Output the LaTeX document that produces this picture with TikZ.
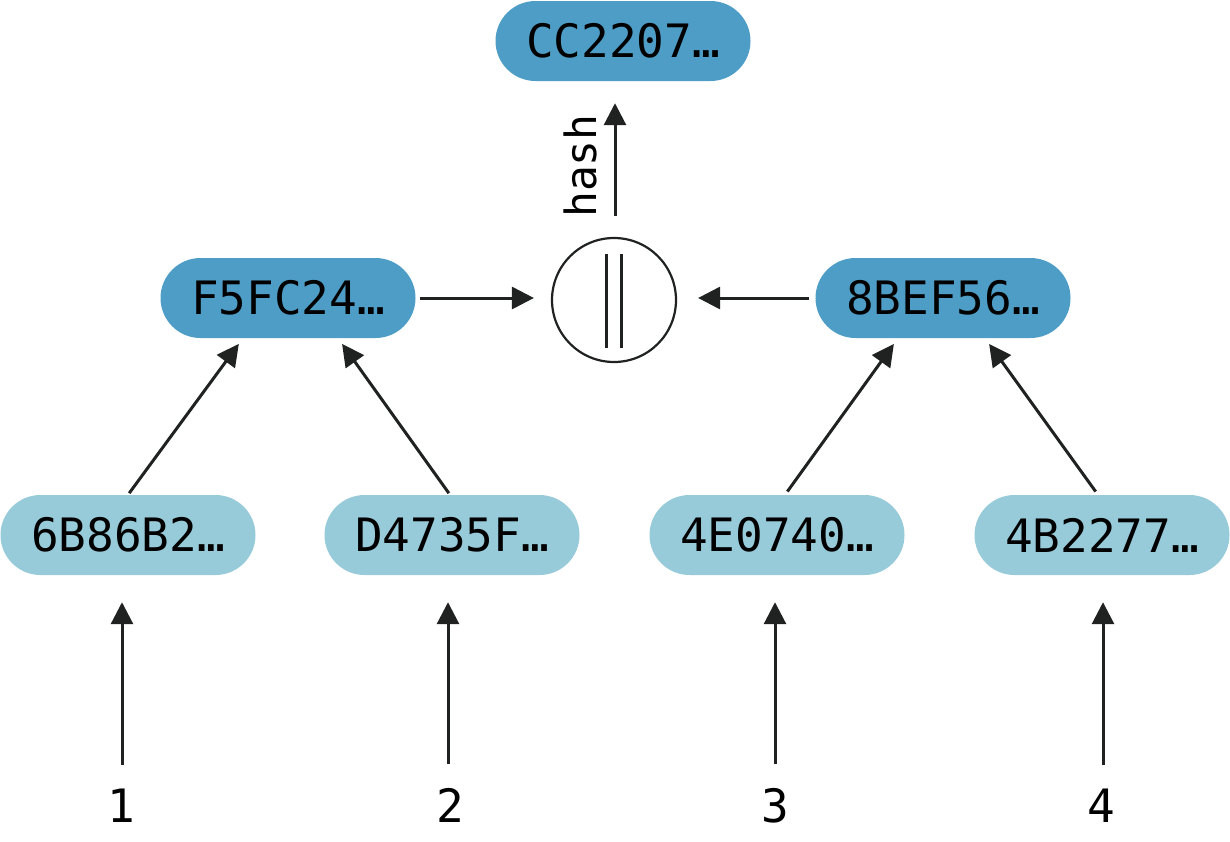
\documentclass[tikz,border=0pt]{standalone}
\usepackage{fontspec}
\setmonofont{DejaVu Sans Mono}
\usetikzlibrary{arrows.meta}
\definecolor{darkb}{RGB}{78,157,198}
\definecolor{lightb}{RGB}{151,203,218}
\definecolor{ink}{RGB}{32,34,33}
\tikzset{
  lbl/.style={font=\ttfamily\fontsize{46}{54}\selectfont, text=black},
  hashbox/.style={lbl, rectangle, rounded corners=40pt, minimum width=255pt, minimum height=80pt, inner sep=0pt},
  parentbox/.style={hashbox, fill=darkb},
  leafbox/.style={hashbox, fill=lightb},
  arr/.style={draw=ink, line width=3pt, -{Triangle[length=22pt,width=22pt]}},
  joinc/.style={circle, draw=ink, line width=2.2pt, minimum size=124pt, inner sep=0pt}
}
\begin{document}
\begin{tikzpicture}[x=1pt,y=-1pt]
\useasboundingbox (0,0) rectangle (1230,841);
\node[parentbox] (top) at (623,41) {CC2207…};
\node[parentbox] (p1) at (288,298) {F5FC24…};
\node[parentbox] (p2) at (943,298) {8BEF56…};
\node[joinc] (c) at (614,300) {};
\draw[ink, line width=3pt] ([shift={(-7.5,-46)}]c.center) -- ([shift={(-7.5,48)}]c.center);
\draw[ink, line width=3pt] ([shift={(7.5,-46)}]c.center) -- ([shift={(7.5,48)}]c.center);
\node[leafbox] (l1) at (128,535) {6B86B2…};
\node[leafbox] (l2) at (452,535) {D4735F…};
\node[leafbox] (l3) at (777,535) {4E0740…};
\node[leafbox] (l4) at (1102,535) {4B2277…};
\node[lbl, anchor=base] (n1) at (121,822) {1};
\node[lbl, anchor=base] (n2) at (450,822) {2};
\node[lbl, anchor=base] (n3) at (775,822) {3};
\node[lbl, anchor=base] (n4) at (1101,822) {4};
% leaves from numbers
\draw[arr, shorten <=20pt, shorten >=27pt] ([xshift=1]n1.north) -- ([xshift=1]n1.north |- l1.south);
\draw[arr, shorten <=20pt, shorten >=27pt] ([xshift=-2]n2.north) -- ([xshift=-2]n2.north |- l2.south);
\draw[arr, shorten <=20pt, shorten >=27pt] (n3.north) -- (n3.north |- l3.south);
\draw[arr, shorten <=20pt, shorten >=27pt] ([xshift=2]n4.north) -- ([xshift=2]n4.north |- l4.south);
% leaves to parents
\draw[arr, shorten <=2pt, shorten >=7pt] (l1.north) -- ([xshift=-45]p1.south);
\draw[arr, shorten <=2pt, shorten >=7pt] ([xshift=-2]l2.north) -- ([xshift=50]p1.south);
\draw[arr, shorten <=4pt, shorten >=7pt] ([xshift=8]l3.north) -- ([xshift=-45]p2.south);
\draw[arr, shorten <=4pt, shorten >=7pt] ([xshift=-4]l4.north) -- ([xshift=42]p2.south);
% parents to join
\draw[arr, shorten <=4pt, shorten >=17pt] (p1.east) -- (p1.east -| c.west);
\draw[arr, shorten <=6pt, shorten >=21pt] (p2.west) -- (p2.west -| c.east);
% hash
\draw[arr, shorten <=21pt, shorten >=22pt] ([xshift=1]c.north) -- ([xshift=1]c.north |- top.south);
\node[lbl, rotate=90, anchor=south, inner sep=0pt, font=\ttfamily\fontsize{43}{50}\selectfont] (h) at (597,166) {hash};
\end{tikzpicture}
\end{document}
